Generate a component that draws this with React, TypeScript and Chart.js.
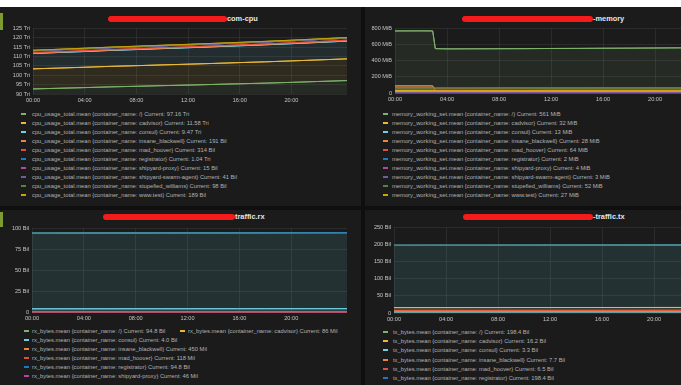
import React, { useEffect, useRef } from "react";
import { Chart, registerables } from "chart.js";

Chart.register(...registerables);

// ---------- data ----------
const HOURS = [0, 2, 4, 6, 8, 10, 12, 14, 16, 18, 20, 22, 24.3];
const MEM_HOURS = [0, 2, 2.9, 3.1, 4, 6, 8, 10, 12, 14, 16, 18, 20, 22, 24.3];
const X_TICKS = [0, 4, 8, 12, 16, 20];
const X_MAX = 24.3;

const CONTAINERS = [
  "/",
  "cadvisor",
  "consul",
  "insane_blackwell",
  "mad_hoover",
  "registrator",
  "shipyard-proxy",
  "shipyard-swarm-agent",
  "stupefied_williams",
  "www.test",
];
const COLORS = [
  "#7EB26D",
  "#EAB839",
  "#6ED0E0",
  "#EF843C",
  "#E24D42",
  "#1F78C1",
  "#BA43A9",
  "#705DA0",
  "#508642",
  "#CCA300",
];

// CPU (Tri), stacked
const cpuRoot = [92.7, 93.05, 93.4, 93.8, 94.1, 94.45, 94.75, 95.1, 95.45, 95.8, 96.2, 96.65, 97.16];
const cpuCadvisor = [10.7, 10.78, 10.86, 10.93, 11.0, 11.07, 11.14, 11.21, 11.29, 11.36, 11.44, 11.5, 11.58];
const cpuConsul = [8.2, 8.3, 8.4, 8.5, 8.6, 8.69, 8.78, 8.87, 8.97, 9.07, 9.18, 9.31, 9.47];
const cpuInsane = [0.172, 0.174, 0.175, 0.177, 0.178, 0.18, 0.182, 0.183, 0.185, 0.186, 0.188, 0.19, 0.191];
const cpuMad = [0.285, 0.287, 0.29, 0.292, 0.294, 0.297, 0.299, 0.302, 0.304, 0.306, 0.309, 0.311, 0.314];
const cpuRegistrator = [0.95, 0.957, 0.965, 0.972, 0.98, 0.987, 0.995, 1.002, 1.01, 1.017, 1.025, 1.032, 1.04];
const cpuShipyard = [0.0135, 0.0136, 0.0137, 0.0138, 0.0139, 0.014, 0.0141, 0.0142, 0.0144, 0.0145, 0.0146, 0.0148, 0.015];
const cpuSwarm = [0.037, 0.0373, 0.0377, 0.038, 0.0383, 0.0387, 0.039, 0.0393, 0.0397, 0.04, 0.0403, 0.0407, 0.041];
const cpuStupefied = [0.088, 0.089, 0.09, 0.091, 0.0915, 0.0925, 0.093, 0.094, 0.095, 0.0955, 0.0965, 0.097, 0.098];
const cpuWww = [0.172, 0.173, 0.175, 0.176, 0.178, 0.179, 0.181, 0.182, 0.183, 0.185, 0.186, 0.188, 0.189];
const cpuCurrent = ["97.16 Tri", "11.58 Tri", "9.47 Tri", "191 Bil", "314 Bil", "1.04 Tri", "15 Bil", "41 Bil", "98 Bil", "189 Bil"];
const cpuTicks = [90, 95, 100, 105, 110, 115, 120, 125];

// Memory (MiB)
const memRoot = [768, 769, 768, 549, 546, 547, 548, 549, 551, 552, 554, 555, 557, 559, 561];
const memCadvisor = [29, 30, 30, 31, 31, 31, 31, 31, 32, 32, 32, 32, 32, 32, 32];
const memConsul = [12, 12, 12, 12, 12, 13, 13, 13, 13, 13, 13, 13, 13, 13, 13];
const memInsane = [88, 88, 88, 27, 27, 27, 27, 28, 28, 28, 28, 28, 28, 28, 28];
const memMad = [66, 66, 66, 62, 62, 62, 63, 63, 63, 63, 64, 64, 64, 64, 64];
const memRegistrator = [2, 2, 2, 2, 2, 2, 2, 2, 2, 2, 2, 2, 2, 2, 2];
const memShipyard = [4, 4, 4, 4, 4, 4, 4, 4, 4, 4, 4, 4, 4, 4, 4];
const memSwarm = [3, 3, 3, 3, 3, 3, 3, 3, 3, 3, 3, 3, 3, 3, 3];
const memStupefied = [50, 50, 51, 51, 51, 51, 51, 52, 52, 52, 52, 52, 52, 52, 52];
const memWww = [26, 26, 26, 26, 26, 27, 27, 27, 27, 27, 27, 27, 27, 27, 27];
const memCurrent = ["561 MiB", "32 MiB", "13 MiB", "28 MiB", "64 MiB", "2 MiB", "4 MiB", "3 MiB", "52 MiB", "27 MiB"];
const memTicks = [0, 200, 400, 600, 800];

// Traffic rx (Bil)
const rxRoot = [94.3, 94.35, 94.4, 94.45, 94.5, 94.55, 94.6, 94.62, 94.66, 94.7, 94.74, 94.77, 94.8];
const rxCadvisor = [0.079, 0.08, 0.08, 0.081, 0.081, 0.082, 0.083, 0.083, 0.084, 0.084, 0.085, 0.085, 0.086];
const rxConsul = [3.8, 3.82, 3.83, 3.85, 3.87, 3.88, 3.9, 3.92, 3.93, 3.95, 3.97, 3.98, 4.0];
const rxInsane = [0.43, 0.432, 0.433, 0.435, 0.437, 0.438, 0.44, 0.442, 0.443, 0.445, 0.447, 0.448, 0.45];
const rxMad = [0.11, 0.111, 0.111, 0.112, 0.113, 0.113, 0.114, 0.115, 0.115, 0.116, 0.117, 0.117, 0.118];
const rxRegistrator = [94.3, 94.35, 94.4, 94.45, 94.5, 94.55, 94.6, 94.62, 94.66, 94.7, 94.74, 94.77, 94.8];
const rxShipyard = [0.044, 0.044, 0.044, 0.045, 0.045, 0.045, 0.045, 0.045, 0.046, 0.046, 0.046, 0.046, 0.046];
const rxCurrent = ["94.8 Bil", "86 Mil", "4.0 Bil", "450 Mil", "118 Mil", "94.8 Bil", "46 Mil"];
const rxTicks = [0, 25, 50, 75, 100];

// Traffic tx (Bil)
const txRoot = [197.6, 197.7, 197.75, 197.8, 197.9, 197.95, 198.0, 198.05, 198.1, 198.2, 198.25, 198.3, 198.4];
const txCadvisor = [15.8, 15.83, 15.87, 15.9, 15.93, 15.97, 16.0, 16.03, 16.07, 16.1, 16.13, 16.17, 16.2];
const txConsul = [3.2, 3.21, 3.22, 3.22, 3.23, 3.24, 3.25, 3.26, 3.27, 3.28, 3.28, 3.29, 3.3];
const txInsane = [7.5, 7.52, 7.53, 7.55, 7.57, 7.58, 7.6, 7.62, 7.63, 7.65, 7.67, 7.68, 7.7];
const txMad = [6.3, 6.32, 6.33, 6.35, 6.37, 6.38, 6.4, 6.42, 6.43, 6.45, 6.47, 6.48, 6.5];
const txRegistrator = [197.6, 197.7, 197.75, 197.8, 197.9, 197.95, 198.0, 198.05, 198.1, 198.2, 198.25, 198.3, 198.4];
const txCurrent = ["198.4 Bil", "16.2 Bil", "3.3 Bil", "7.7 Bil", "6.5 Bil", "198.4 Bil"];
const txTicks = [0, 50, 100, 150, 200, 250];

// ---------- styling ----------
const FONT = '"Liberation Sans", Arial, Helvetica, sans-serif';
const PAGE_BG = "#0f0f10";
const PANEL_BG = "#1b1b1c";
const TICK_COLOR = "#c4c4c4";
const GRID_COLOR = "rgba(255,255,255,0.07)";
const LEGEND_COLOR = "#b2b2b2";

function alpha(hex: string, a: number) {
  const n = parseInt(hex.slice(1), 16);
  return `rgba(${(n >> 16) & 255},${(n >> 8) & 255},${n & 255},${a})`;
}

function hh(v: number) {
  return `${String(v).padStart(2, "0")}:00`;
}

// Redraw the series lines so later series end up on top (as in Grafana)
const lineOrderPlugin = {
  id: "lineOrder",
  afterDatasetsDraw(chart: any) {
    const ctx = chart.ctx;
    const area = chart.chartArea;
    ctx.save();
    ctx.beginPath();
    ctx.rect(area.left, area.top - 1, area.right - area.left, area.bottom - area.top + 2);
    ctx.clip();
    for (let i = 0; i < chart.data.datasets.length; i++) {
      const meta = chart.getDatasetMeta(i);
      if (meta && meta.dataset) meta.dataset.draw(ctx, area);
    }
    ctx.restore();
  },
};

type ChartProps = {
  left: number;
  top: number;
  width: number;
  height: number;
  xs: number[];
  series: number[][];
  yMin: number;
  yMax: number;
  yTicks: number[];
  unit: string;
  yWidth: number;
  stacked?: boolean;
};

function LineChart(p: ChartProps) {
  const ref = useRef<HTMLCanvasElement>(null);
  useEffect(() => {
    const datasets = p.series.map((vals, i) => ({
      label: CONTAINERS[i],
      data: vals.map((v, j) => ({ x: p.xs[j], y: v })),
      borderColor: COLORS[i],
      backgroundColor: alpha(COLORS[i], 0.1),
      borderWidth: 1,
      pointRadius: 0,
      tension: 0,
      fill: p.stacked ? (i === 0 ? "origin" : "-1") : "origin",
    }));
    const chart = new Chart(ref.current!, {
      type: "line",
      data: { datasets: datasets as any },
      plugins: [lineOrderPlugin as any],
      options: {
        animation: false,
        responsive: false,
        devicePixelRatio: 1,
        layout: { padding: { top: 6, right: 0, bottom: 0, left: 0 } },
        plugins: { legend: { display: false }, tooltip: { enabled: false } },
        scales: {
          x: {
            type: "linear",
            min: 0,
            max: X_MAX,
            afterBuildTicks: (s: any) => {
              s.ticks = X_TICKS.map((v) => ({ value: v }));
            },
            afterFit: (s: any) => {
              s.height = 10;
            },
            ticks: {
              callback: (v: any) => hh(Number(v)),
              color: TICK_COLOR,
              font: { size: 5.6, family: FONT },
              padding: 3,
              maxRotation: 0,
              autoSkip: false,
            },
            grid: { color: GRID_COLOR, drawTicks: false },
            border: { display: false },
          },
          y: {
            type: "linear",
            stacked: !!p.stacked,
            min: p.yMin,
            max: p.yMax,
            afterBuildTicks: (s: any) => {
              s.ticks = p.yTicks.map((v) => ({ value: v }));
            },
            afterFit: (s: any) => {
              s.width = p.yWidth;
            },
            ticks: {
              callback: (v: any) => (Number(v) === 0 ? "0" : `${v} ${p.unit}`),
              color: TICK_COLOR,
              font: { size: 5.6, family: FONT },
              padding: 3,
              autoSkip: false,
            },
            grid: { color: GRID_COLOR, drawTicks: false },
            border: { display: false },
          },
        },
      } as any,
    });
    return () => chart.destroy();
  }, []);
  return (
    <canvas
      ref={ref}
      width={p.width}
      height={p.height}
      style={{ position: "absolute", left: p.left, top: p.top, width: p.width, height: p.height }}
    />
  );
}

type LegendProps = {
  prefix: string;
  currents: string[];
  rows: number[][];
  top: number;
  rowGap: number;
  markerXs: number[];
  textXs: number[];
};

function Legend(p: LegendProps) {
  const out: React.ReactNode[] = [];
  p.rows.forEach((row, r) => {
    row.forEach((idx, j) => {
      const y = p.top + r * p.rowGap;
      out.push(
        <div
          key={`m${r}-${j}`}
          style={{
            position: "absolute",
            left: p.markerXs[j],
            top: y - 1,
            width: 5,
            height: 2,
            background: COLORS[idx],
          }}
        />
      );
      out.push(
        <div
          key={`t${r}-${j}`}
          style={{
            position: "absolute",
            left: p.textXs[j],
            top: y - 4,
            height: 8,
            lineHeight: "8px",
            fontSize: 5.8,
            color: LEGEND_COLOR,
            whiteSpace: "nowrap",
            fontFamily: FONT,
          }}
        >
          {`${p.prefix} {container_name: ${CONTAINERS[idx]}} Current: ${p.currents[idx]}`}
        </div>
      );
    });
  });
  return <>{out}</>;
}

function Title({ blobLeft, blobWidth, y, text }: { blobLeft: number; blobWidth: number; y: number; text: string }) {
  return (
    <>
      <div
        style={{
          position: "absolute",
          left: blobLeft,
          top: y - 3,
          width: blobWidth,
          height: 6,
          borderRadius: 3,
          background: "#f51b1b",
        }}
      />
      <div
        style={{
          position: "absolute",
          left: blobLeft + blobWidth,
          top: y - 5,
          height: 10,
          lineHeight: "10px",
          fontSize: 7.4,
          fontWeight: "bold",
          color: "#e6e6e6",
          whiteSpace: "nowrap",
          fontFamily: FONT,
        }}
      >
        {text}
      </div>
    </>
  );
}

function Box({ left, top, width, height, bg }: { left: number; top: number; width: number; height: number; bg: string }) {
  return <div style={{ position: "absolute", left, top, width, height, background: bg }} />;
}

export default function App() {
  return (
    <div
      style={{
        position: "relative",
        width: 681,
        height: 385,
        overflow: "hidden",
        background: "#ffffff",
        fontFamily: FONT,
      }}
    >
      <style>{`html,body{margin:0;padding:0;overflow:hidden;background:#fff}`}</style>
      <Box left={0} top={7} width={681} height={378} bg={PAGE_BG} />
      {/* panels */}
      <Box left={0} top={7} width={361} height={199} bg={PANEL_BG} />
      <Box left={365} top={7} width={361} height={199} bg={PANEL_BG} />
      <Box left={0} top={210} width={361} height={180} bg={PANEL_BG} />
      <Box left={365} top={210} width={361} height={180} bg={PANEL_BG} />
      <Box left={0} top={13} width={3} height={17} bg="#7c9b30" />
      <Box left={0} top={212} width={3} height={15} bg="#7c9b30" />

      {/* top-left: cpu */}
      <Title blobLeft={108} blobWidth={119} y={19} text="com-cpu" />
      <LineChart
        left={0}
        top={22}
        width={347}
        height={82}
        xs={HOURS}
        series={[cpuRoot, cpuCadvisor, cpuConsul, cpuInsane, cpuMad, cpuRegistrator, cpuShipyard, cpuSwarm, cpuStupefied, cpuWww]}
        yMin={90}
        yMax={125}
        yTicks={cpuTicks}
        unit="Tri"
        yWidth={33}
        stacked
      />
      <Legend
        prefix="cpu_usage_total.mean"
        currents={cpuCurrent}
        rows={[[0], [1], [2], [3], [4], [5], [6], [7], [8], [9]]}
        top={114}
        rowGap={9}
        markerXs={[21]}
        textXs={[32]}
      />

      {/* top-right: memory */}
      <Title blobLeft={462} blobWidth={131} y={19} text="-memory" />
      <LineChart
        left={365}
        top={22}
        width={346}
        height={81}
        xs={MEM_HOURS}
        series={[memRoot, memCadvisor, memConsul, memInsane, memMad, memRegistrator, memShipyard, memSwarm, memStupefied, memWww]}
        yMin={0}
        yMax={800}
        yTicks={memTicks}
        unit="MiB"
        yWidth={30}
      />
      <Legend
        prefix="memory_working_set.mean"
        currents={memCurrent}
        rows={[[0], [1], [2], [3], [4], [5], [6], [7], [8], [9]]}
        top={114}
        rowGap={9}
        markerXs={[383]}
        textXs={[392]}
      />

      {/* bottom-left: traffic rx */}
      <Title blobLeft={103} blobWidth={132} y={217} text="traffic.rx" />
      <LineChart
        left={0}
        top={222}
        width={347}
        height={100}
        xs={HOURS}
        series={[rxRoot, rxCadvisor, rxConsul, rxInsane, rxMad, rxRegistrator, rxShipyard]}
        yMin={0}
        yMax={100}
        yTicks={rxTicks}
        unit="Bil"
        yWidth={32}
      />
      <Legend
        prefix="rx_bytes.mean"
        currents={rxCurrent}
        rows={[[0, 1], [2], [3], [4], [5], [6]]}
        top={331}
        rowGap={9}
        markerXs={[24, 180]}
        textXs={[32, 188]}
      />

      {/* bottom-right: traffic tx */}
      <Title blobLeft={463} blobWidth={130} y={217} text="-traffic.tx" />
      <LineChart
        left={365}
        top={221}
        width={345}
        height={102}
        xs={HOURS}
        series={[txRoot, txCadvisor, txConsul, txInsane, txMad, txRegistrator]}
        yMin={0}
        yMax={250}
        yTicks={txTicks}
        unit="Bil"
        yWidth={29}
      />
      <Legend
        prefix="tx_bytes.mean"
        currents={txCurrent}
        rows={[[0], [1], [2], [3], [4], [5]]}
        top={332}
        rowGap={9.2}
        markerXs={[383]}
        textXs={[393]}
      />
    </div>
  );
}
